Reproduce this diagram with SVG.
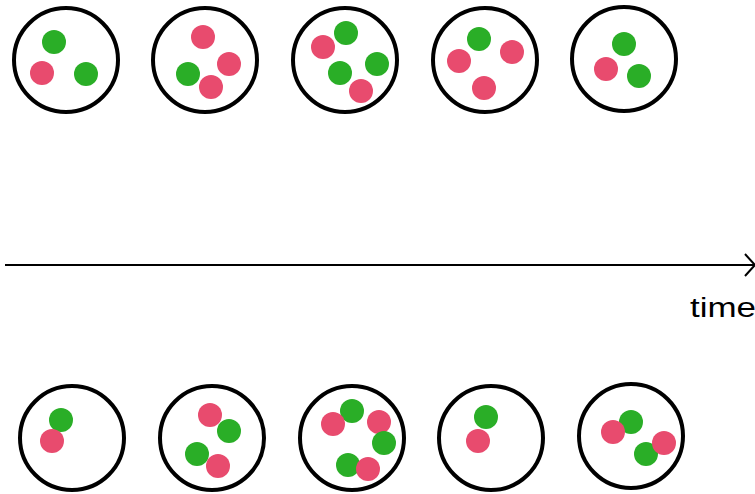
<svg xmlns="http://www.w3.org/2000/svg" width="755" height="494" viewBox="0 0 755 494">
<style>
.box{fill:#fff;stroke:#000;stroke-width:4}
.g{fill:#2aae27}
.r{fill:#e84b6e}
.ax{stroke:#000;stroke-width:2;fill:none}
.lbl{font-family:"Comic Sans MS","Liberation Sans",sans-serif;font-size:27px;fill:#000}
</style>
<rect width="755" height="494" fill="#fff"/>
<g id="top1"><circle class="box" cx="66" cy="60" r="52"/><circle class="g" cx="54" cy="42" r="12"/><circle class="r" cx="42" cy="73" r="12"/><circle class="g" cx="86" cy="74" r="12"/></g>
<g id="top2"><circle class="box" cx="205" cy="60" r="52"/><circle class="r" cx="203" cy="37" r="12"/><circle class="r" cx="229" cy="64" r="12"/><circle class="g" cx="188" cy="74" r="12"/><circle class="r" cx="211" cy="87" r="12"/></g>
<g id="top3"><circle class="box" cx="345" cy="60" r="52"/><circle class="g" cx="346" cy="33" r="12"/><circle class="r" cx="323" cy="47" r="12"/><circle class="g" cx="340" cy="73" r="12"/><circle class="g" cx="377" cy="64" r="12"/><circle class="r" cx="361" cy="91" r="12"/></g>
<g id="top4"><circle class="box" cx="485" cy="60" r="52"/><circle class="g" cx="479" cy="39" r="12"/><circle class="r" cx="459" cy="61" r="12"/><circle class="r" cx="512" cy="52" r="12"/><circle class="r" cx="484" cy="88" r="12"/></g>
<g id="top5"><circle class="box" cx="624" cy="59" r="52"/><circle class="g" cx="624" cy="44" r="12"/><circle class="r" cx="606" cy="69" r="12"/><circle class="g" cx="639" cy="76" r="12"/></g>
<g id="connectors"><line class="ax" x1="5" y1="265" x2="754" y2="265"/><polyline class="ax" points="745,254 755,265 745,276"/></g>
<g id="label"><text class="lbl" x="690" y="317" textLength="66" lengthAdjust="spacingAndGlyphs">time</text></g>
<g id="bot1"><circle class="box" cx="72" cy="438" r="52"/><circle class="g" cx="61" cy="420" r="12"/><circle class="r" cx="52" cy="441" r="12"/></g>
<g id="bot2"><circle class="box" cx="212" cy="438" r="52"/><circle class="r" cx="210" cy="415" r="12"/><circle class="g" cx="229" cy="431" r="12"/><circle class="g" cx="197" cy="454" r="12"/><circle class="r" cx="218" cy="466" r="12"/></g>
<g id="bot3"><circle class="box" cx="352" cy="438" r="52"/><circle class="g" cx="352" cy="411" r="12"/><circle class="r" cx="333" cy="424" r="12"/><circle class="r" cx="379" cy="422" r="12"/><circle class="g" cx="384" cy="443" r="12"/><circle class="g" cx="348" cy="465" r="12"/><circle class="r" cx="368" cy="469" r="12"/></g>
<g id="bot4"><circle class="box" cx="491" cy="438" r="52"/><circle class="g" cx="486" cy="417" r="12"/><circle class="r" cx="478" cy="441" r="12"/></g>
<g id="bot5"><circle class="box" cx="631" cy="436" r="52"/><circle class="g" cx="631" cy="422" r="12"/><circle class="r" cx="613" cy="432" r="12"/><circle class="g" cx="646" cy="454" r="12"/><circle class="r" cx="664" cy="443" r="12"/></g>
</svg>
